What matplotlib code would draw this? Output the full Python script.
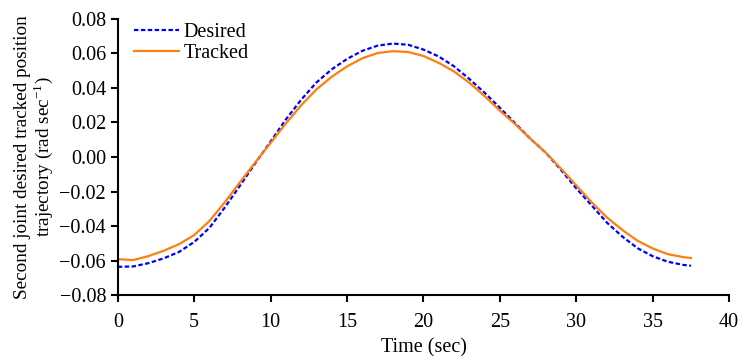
import numpy as np
import matplotlib.pyplot as plt

plt.rcParams['font.family'] = ['Liberation Serif', 'DejaVu Serif']
plt.rcParams['mathtext.fontset'] = 'stix'

# time (sec)
t = [0, 1, 2, 3, 4, 5, 6, 7, 8, 9, 10, 11, 12, 13, 14, 15, 16, 17, 18, 19,
     20, 21, 22, 23, 24, 25, 26, 27, 28, 29, 30, 31, 32, 33, 34, 35, 36, 37, 37.5]

desired = [-0.0636, -0.0634, -0.0615, -0.0587, -0.0550, -0.0492, -0.0410, -0.0292,
           -0.0165, -0.0035, 0.0090, 0.0218, 0.0332, 0.0432, 0.0508, 0.0568, 0.0615,
           0.0645, 0.0657, 0.0650, 0.0622, 0.0582, 0.0525, 0.0452, 0.0372, 0.0285,
           0.0195, 0.0105, 0.0025, -0.0075, -0.0182, -0.0280, -0.0380, -0.0460,
           -0.0528, -0.0575, -0.0607, -0.0625, -0.0630]

tracked = [-0.0592, -0.0597, -0.0574, -0.0543, -0.0505, -0.0452, -0.0370, -0.0262,
           -0.0145, -0.0030, 0.0082, 0.0195, 0.0300, 0.0392, 0.0465, 0.0525, 0.0572,
           0.0602, 0.0613, 0.0608, 0.0585, 0.0545, 0.0495, 0.0430, 0.0352, 0.0268,
           0.0190, 0.0105, 0.0025, -0.0068, -0.0165, -0.0262, -0.0350, -0.0422,
           -0.0485, -0.0530, -0.0563, -0.0580, -0.0585]

yticks = [-0.08, -0.06, -0.04, -0.02, 0.00, 0.02, 0.04, 0.06, 0.08]
fs = 14.5

fig = plt.figure(figsize=(7.41, 3.56), dpi=100)
ax = fig.add_axes([0.159, 0.171, 0.825, 0.776])

ax.plot(t, desired, color='#0000ff', linestyle=(0, (2.0, 1.1)), linewidth=1.6, label='Desired')
ax.plot(t, tracked, color='#ff7f0e', linestyle='-', linewidth=1.6, label='Tracked')

ax.set_xlim(0, 40)
ax.set_ylim(-0.08, 0.08)
ax.set_xticks(np.arange(0, 41, 5))
ax.set_yticks(yticks)
ax.set_yticklabels([('%.2f' % v).replace('-', '\u2212') for v in yticks])

for s in ['top', 'right']:
    ax.spines[s].set_visible(False)
for s in ['left', 'bottom']:
    ax.spines[s].set_linewidth(1.5)
ax.tick_params(direction='out', length=5, width=1.5, labelsize=fs)
ax.tick_params(axis='x', pad=8)

ax.set_xlabel('Time (sec)', fontsize=fs, labelpad=4)
ax.set_ylabel('Second joint desired tracked position\ntrajectory (rad sec$^{\\mathregular{-1}}$)',
              fontsize=13.8, labelpad=3, linespacing=1.05)

ax.legend(loc='upper left', frameon=False, fontsize=fs, handlelength=2.2,
          borderaxespad=0.0, bbox_to_anchor=(0.014, 1.015), labelspacing=0.1, handletextpad=0.25)

fig.savefig('out.png', dpi=100)
